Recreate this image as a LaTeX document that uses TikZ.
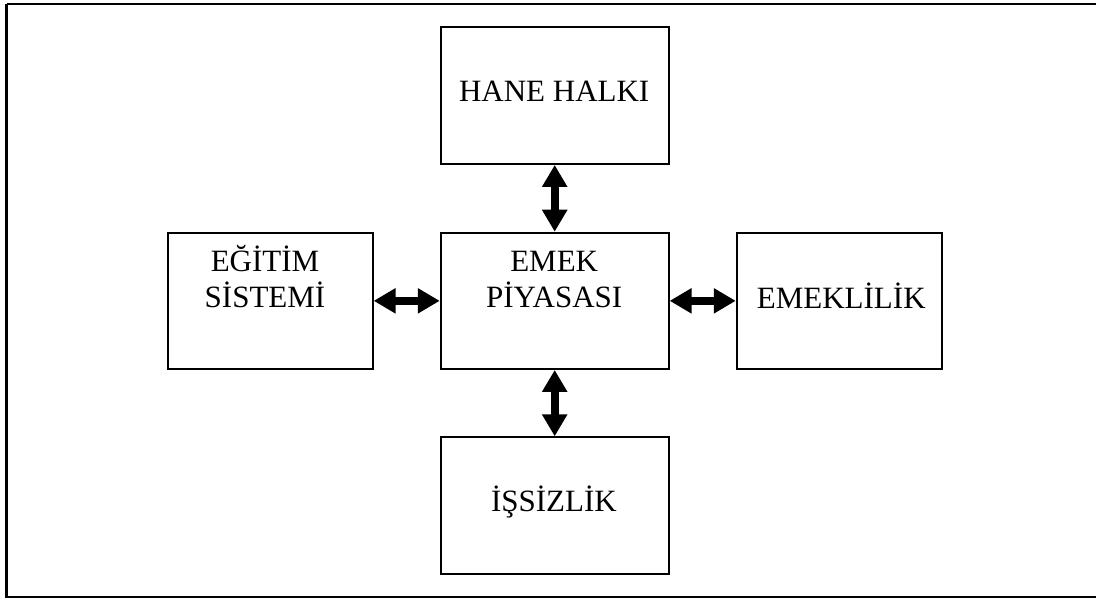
\documentclass[tikz,border=0pt]{standalone}
\usepackage{fontspec}
\setmainfont{Liberation Serif}
\usetikzlibrary{arrows.meta}
\begin{document}
\begin{tikzpicture}[x=1pt,y=-1pt,
  box/.style={draw=black,line width=1.9pt,fill=white,inner sep=0pt},
  lbl/.style={font=\fontsize{31}{35.6}\selectfont,inner sep=0pt,anchor=base},
  link/.style={line width=8pt,
    {Triangle[length=22pt,width=24pt]}-{Triangle[length=22pt,width=24pt]}}]
  \useasboundingbox (0,0) rectangle (1096,601);
  % outer frame
  \draw[line width=2.2pt] (6.5,4) -- (1100,4);
  \draw[line width=2.2pt] (6.5,4) -- (6.5,597) -- (1100,597);
  % boxes
  \node[box,minimum width=228pt,minimum height=136.7pt] (hane) at (554.7,95.65) {};
  \node[box,minimum width=228pt,minimum height=136.3pt] (emek) at (554.7,300.85) {};
  \node[box,minimum width=204.7pt,minimum height=136.3pt] (egitim) at (270.35,300.85) {};
  \node[box,minimum width=205.3pt,minimum height=136.3pt] (emekl) at (839.35,300.85) {};
  \node[box,minimum width=228pt,minimum height=136.7pt] (issiz) at (554.7,505.65) {};
  % labels
  \node[lbl] (t1) at (554.2,101.7) {HANE HALKI};
  \node[lbl] (t2a) at (554.2,271.7) {EMEK};
  \node[lbl] (t2b) at (554.2,307.3) {PİYASASI};
  \node[lbl] (t3a) at (265,271.7) {EĞİTİM};
  \node[lbl] (t3b) at (265,307.3) {SİSTEMİ};
  \node[lbl,anchor=base west] (t4) at (756.7,308.3) {EMEKLİLİK};
  \node[lbl] (t5) at (553.9,511.7) {İŞSİZLİK};
  % double-headed links
  \draw[link] (hane.south) -- (emek.north);
  \draw[link] (emek.south) -- (issiz.north);
  \draw[link] (egitim.east) -- (emek.west);
  \draw[link] (emek.east) -- (emekl.west);
\end{tikzpicture}
\end{document}
